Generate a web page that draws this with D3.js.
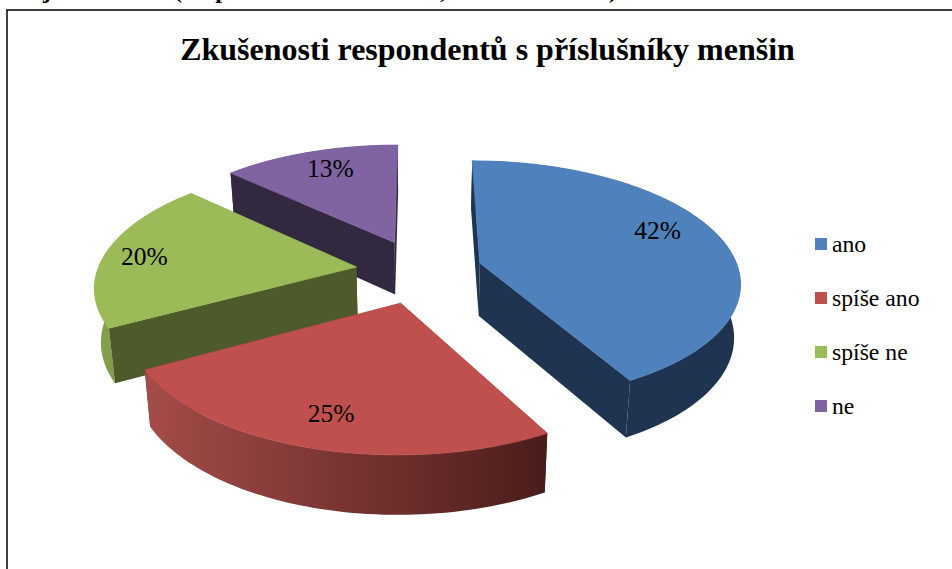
<!DOCTYPE html>
<html><head><meta charset="utf-8">
<script src="https://cdn.jsdelivr.net/npm/d3@7/dist/d3.min.js"></script>
<style>html,body{margin:0;padding:0;background:#fff;overflow:hidden}svg{display:block}text{font-family:"Liberation Serif","Times New Roman",serif;fill:#000}</style>
</head><body><div id="c"></div>
<script>
const categories = ["ano", "spíše ano", "spíše ne", "ne"];
const values = [42, 25, 20, 13];
const labels = ["42%", "25%", "20%", "13%"];
const topColors = ["#4f81bd", "#c0504d", "#9bbb59", "#8064a2"];
const cutColors = ["#1f3450", "#4c1e1b", "#4e5a2a", "#322840"];
const rimLeft = ["#1f3450", "#a54c49", "#87a24e", "#322840"];
const rimRight = ["#1f3450", "#4a1d1a", "#6f8540", "#322840"];
const title = "Zkušenosti respondentů s příslušníky menšin";
const captionFragments = ["j", "(", "p", ",", ")"];

const W = 952, H = 569;
const svg = d3.select("#c").append("svg").attr("width", W).attr("height", H);

// Perspective projection of the pie plane
const CX = 419, VY = -548, CY = 819, RX = 259, PERSP = 0.1456, EXPLODE_U = 0.245, EXPLODE_V = 0.27;
const BASE_A = 22, BASE_B = 31, SHRINK = 0.98;
const w = v => 1 + PERSP * v;
const top3 = ([u, v]) => [CX + RX * u / w(v), VY + CY / w(v)];
const bot3 = ([u, v]) => { const p = top3([u, v]);
  return [CX + (p[0] - CX) * SHRINK, p[1] + BASE_A + BASE_B / w(v)]; };
const line = d3.line();
const defs = svg.append("defs");

const arcs = d3.pie().sort(null).startAngle(0).endAngle(2 * Math.PI)(values);
const slices = arcs.map((a, i) => {
  const mid = (a.startAngle + a.endAngle) / 2;
  const ox = EXPLODE_U * Math.sin(mid), oy = EXPLODE_V * Math.cos(mid);
  const pt = (t, r) => [ox + r * Math.sin(t), oy + r * Math.cos(t)];
  const n = Math.max(8, Math.round((a.endAngle - a.startAngle) * 40));
  const rim = d3.range(n + 1).map(k => pt(a.startAngle + (a.endAngle - a.startAngle) * k / n, 1));
  return { i, mid, pt, rim, apex: [ox, oy], a };
});

// Frame and clipped caption above it
svg.append("rect").attr("x", 7).attr("y", 10).attr("width", W + 20).attr("height", H + 20)
  .attr("fill", "#fff").attr("stroke", "#2a2a2a").attr("stroke-width", 1.8);
svg.selectAll("text.cap").data(captionFragments).join("text").attr("class", "cap")
  .attr("x", (d, i) => [47, 178, 222, 443, 613][i])
  .attr("y", -2).attr("font-size", 24).attr("font-weight", "bold").attr("text-anchor", "middle").text(d => d);

// Gradients for rims
slices.forEach(s => {
  const xs = s.rim.map(p => top3(p)[0]);
  const g = defs.append("linearGradient").attr("id", "rim" + s.i).attr("gradientUnits", "userSpaceOnUse")
    .attr("x1", d3.min(xs)).attr("x2", d3.max(xs)).attr("y1", 0).attr("y2", 0);
  g.append("stop").attr("offset", 0).attr("stop-color", rimLeft[s.i]);
  g.append("stop").attr("offset", 1).attr("stop-color", rimRight[s.i]);
});

// painter's order: purple, blue, green, red
[3, 0, 2, 1].forEach(idx => {
  const s = slices[idx];
  const g = svg.append("g");
  const first = s.rim[0], last = s.rim[s.rim.length - 1];
  const quad = (a, b) => [top3(a), top3(b), bot3(b), bot3(a)];
  const faces = [
    { d: quad(s.apex, first), f: cutColors[idx], v: (s.apex[1] + first[1]) / 2 },
    { d: quad(s.apex, last), f: cutColors[idx], v: (s.apex[1] + last[1]) / 2 },
    { d: s.rim.map(top3).concat(s.rim.slice().reverse().map(bot3)), f: `url(#rim${idx})`, v: d3.mean(s.rim, p => p[1]) }
  ].sort((a, b) => b.v - a.v);
  faces.forEach(fc => g.append("path").attr("d", line(fc.d) + "Z").attr("fill", fc.f));
  const topPts = [s.apex].concat(s.rim).map(top3);
  g.append("path").attr("d", line(topPts) + "Z").attr("fill", topColors[idx])
    .attr("stroke", topColors[idx]).attr("stroke-width", 0.8);
});

// Value labels
const LABEL_R = 0.72, nudge = [[5, -10], [-7, 14], [-31, 3], [-1, -4.5]];
slices.forEach(s => {
  const p = top3(s.pt(s.mid, LABEL_R));
  svg.append("text").attr("x", p[0] + nudge[s.i][0]).attr("y", p[1] + nudge[s.i][1])
    .attr("text-anchor", "middle").attr("dominant-baseline", "middle").attr("font-size", 25.5).text(labels[s.i]);
});

// Title
svg.append("text").attr("x", 487.5).attr("y", 60).attr("text-anchor", "middle")
  .attr("font-size", 32).attr("font-weight", "bold").text(title);

// Legend
const ly = d3.scalePoint().domain(categories).range([244, 406]);
const color = d3.scaleOrdinal().domain(categories).range(topColors);
categories.forEach(c => {
  svg.append("rect").attr("x", 815).attr("y", ly(c) - 6).attr("width", 12).attr("height", 12).attr("fill", color(c));
  svg.append("text").attr("x", 832).attr("y", ly(c) + 8).attr("font-size", 23.7).text(c);
});
</script></body></html>
